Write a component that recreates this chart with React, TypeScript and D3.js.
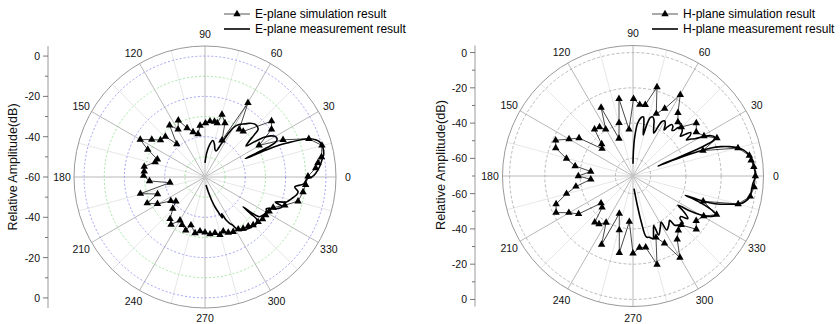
import React from 'react';
import * as d3 from 'd3';

const angleLabels = [0, 30, 60, 90, 120, 150, 180, 210, 240, 270, 300, 330];
const spokeAngles = d3.range(0, 360, 15);

const eMajorTicks = [0, -20, -40, -60];
const eMinorTicks = [-10, -30, -50];
const hMajorTicks = [0, -20, -40, -60];
const hMinorTicks = [-10, -30, -50, -70];

const eLegend = ['E-plane simulation result', 'E-plane measurement result'];
const hLegend = ['H-plane simulation result', 'H-plane measurement result'];
const axisTitle = 'Relative Amplitude(dB)';

// E-plane simulation (angle deg, dB)
const eSimAngles = [0.4, 4.6, 7.2, 9.7, 15.1, 20.2, 25.5, 30.3, 35.6, 40, 50, 54.3, 59.9, 65.2, 69.7, 74.8, 77.2, 80.3, 84.9, 89.5,
  95.5, 99.2, 104.9, 110.1, 115.2, 119.5, 124.4, 130.6, 134.4, 140.3, 144.9, 150, 154.4, 159.6, 163.3, 170.2, 174.7, 178.8,
  184.1, 189.2, 194.5, 199.7, 204.4, 209.5, 215, 219.8, 224.5, 230.2, 234.5, 240, 244.4, 250.1, 253.8, 260, 264.7, 270,
  275, 280.1, 284.5, 288.6, 292.7, 297.2, 302.5, 306.5, 311.3, 315, 319.8, 323.8, 327.9, 331.9, 335.8, 340.5, 345.4, 351.3, 355.6];
const eSimDb = [-8.9, -4.9, -3.5, -1.4, 0.1, -5.1, -17.1, -28.9, -19.4, -16.9, -30.5, -30.9, -17.5, -39.9, -31.5, -27.9, -32.6, -32.1, -32.2, -33.3,
  -34.4, -38.4, -36.9, -34.1, -28.9, -32.9, -28.9, -38.5, -31.9, -31.3, -27.7, -22.9, -28.5, -34.8, -34.2, -29.4, -29.7, -29.5,
  -32.4, -42.4, -26.9, -35, -28.5, -32.9, -39.3, -41.2, -37.6, -32.9, -31, -35.2, -33.7, -31.9, -35.1, -31.7, -33, -32.5,
  -31.5, -31.8, -30.3, -31.6, -30.1, -29.4, -29.3, -28.2, -27.5, -26.2, -25.5, -24.6, -24.4, -23.9, -22.9, -18, -12.3, -10.8, -9.9];

// E-plane measurement
const eMeasAngles = [90, 86, 82, 78, 74, 70, 67, 64, 62, 60, 57, 53, 50, 46, 42, 40.5, 39, 37, 35.5, 34, 32, 30, 28, 26.5, 25.5, 25, 24.5, 24,
  23.5, 22.5, 20, 17, 14, 11, 8, 5, 2, 0, -1, -4, -6.3, -9, -11, -14, -17, -19.6, -21, -24, -27.2, -30, -33, -36, -37.5, -38, -38.8,
  -39.5, -43, -47, -51, -54, -58, -60, -62, -64, -65.5, -67, -69, -71.5, -74, -77.5, -83];
const eMeasDb = [-53, -48, -44, -41.5, -43, -45.5, -46, -42, -36, -31.5, -29, -27, -25.2, -23.8, -24.5, -28, -32, -34.5, -30, -25, -21.5, -19.7, -19.5, -20.5, -24, -32, -38, -30,
  -22, -16, -4.5, -0.5, 0.3, 0, -1.5, -3, -5, -7, -9.4, -10.9, -15.2, -13.2, -13.7, -15.7, -17.7, -23, -19, -21.2, -25.7, -24.8, -25.5, -26.5, -31, -36, -31,
  -26.5, -25.5, -26.1, -26.8, -27.5, -28.9, -32.3, -34, -36.4, -40, -38, -41, -44.3, -48, -52.4, -56];

// H-plane simulation
const hSimAngles = [0, 4.3, 7.6, 10, 14.9, 20, 24.3, 29.4, 34.8, 39.9, 45.4, 50.2, 54.6, 59.8, 64.8, 69.5, 74.9, 80.2, 84.6, 89.6,
  94.9, 100.3, 104.7, 110.5, 115, 120.3, 124.4, 129.5, 134.4, 138.6, 144.9, 150, 155.2, 160.1, 165.3, 170.2, 173.9, 180,
  184.5, 190.4, 194.9, 200, 205.4, 209.8, 214.9, 220.4, 225.5, 230.5, 234.8, 240, 245.4, 250, 255.8, 259.9, 265.4, 270,
  275.2, 280.1, 285.2, 290.5, 295.1, 299.9, 304.9, 309.9, 314.6, 319.9, 324.7, 330.4, 335.2, 340.2, 345.1, 350.1, 354.8];
const hSimDb = [-0.6, -1.3, -2.4, -3, -8.4, -27.8, -17.8, -23.8, -26.3, -23.2, -31, -30.2, -26, -16.7, -27.8, -32.3, -17.8, -29, -29.4, -26.2,
  -43.5, -25.5, -38.8, -47.3, -27.2, -39.3, -36.4, -35.7, -44.6, -46.6, -32.6, -28.1, -21.7, -23.4, -31, -36.7, -45.9, -39,
  -46, -37.1, -31, -23.6, -21.7, -28.1, -32.4, -46.2, -45, -35.9, -36.6, -39.5, -27.2, -47.3, -38.3, -25.7, -44, -26.1,
  -29.3, -28.9, -18, -32.8, -27.9, -16.6, -26.2, -29.9, -31, -23.1, -26.1, -23.9, -17.8, -27.7, -8.3, -2.5, -1];

// H-plane measurement
const hMeasAngles = [90, 89, 87.5, 85, 82, 80, 78.5, 77, 76, 75, 73.5, 71.5, 69.5, 67, 64, 63, 62, 60, 58, 56, 55, 53, 51, 49.5, 48, 47,
  44, 42, 40, 38.5, 37, 35.5, 34, 32.5, 31, 29.5, 27.5, 25.5, 24, 23, 22.3, 21.8, 21.2, 20.5, 19.8, 18.5, 17, 15, 13, 11, 9, 6.7, 3, 0,
  -3.7, -7, -10.2, -12.5, -14.3, -16.6, -18.7, -19.8, -20.3, -21, -22, -23.5, -25, -26.5, -28.3, -30, -31.5, -33, -35, -37.8, -40.5,
  -42, -43.6, -47, -49.8, -50.4, -54, -58, -58.6, -62, -66.5, -67.2, -70, -72.3, -75, -77.7, -79.8, -81.6, -85.5];
const hMeasDb = [-63, -56, -48, -40, -36.5, -36, -39, -44, -46, -40, -35.5, -34.7, -36, -40, -43, -38, -35, -34, -35.5, -38.5, -36, -33.5, -34, -36, -35, -32.5,
  -31.5, -32.5, -35, -32, -29, -30, -33.5, -31, -29, -25, -20.5, -18.7, -20, -26, -40, -54.8, -40, -30, -23, -17.5, -13, -8.4, -5.3, -3.6, -2.4, -1.6, -0.8, -0.5,
  -1.9, -2.3, -2.8, -4.5, -6.7, -13.9, -21, -28, -38.4, -33, -27, -21, -17.9, -19, -21.7, -26, -32, -39.6, -35, -30.6, -34.5,
  -34.2, -30.8, -32, -33.5, -37.4, -35.5, -33.9, -39.4, -37, -33.5, -39.6, -36, -32.7, -34, -34.6, -43.5, -53.2, -62.8];

const FONT = '"Liberation Sans", Arial, Helvetica, sans-serif';
const deg = Math.PI / 180;

type PanelProps = {
  cx: number; cy: number; rMax: number; domain: [number, number];
  simA: number[]; simV: number[]; measA: number[]; measV: number[];
  grid: 'e' | 'h'; axisX: number; majors: number[]; minors: number[];
  legendX: number; legend: string[]; titleX: number; titleY: number; titleSize: number;
};

function Panel(p: PanelProps) {
  const r = d3.scaleLinear().domain(p.domain).range([0, p.rMax]);
  const R = p.rMax;
  const sim = p.simA.map((a, i) => ({ a, v: p.simV[i] }));
  const meas = p.measA.map((a, i) => ({ a, v: p.measV[i] }));
  const simPath = d3.lineRadial<any>().angle(d => (90 - d.a) * deg).radius(d => r(d.v)).curve(d3.curveLinearClosed)(sim) || '';
  const measPath = d3.lineRadial<any>().angle(d => (90 - d.a) * deg).radius(d => r(d.v)).curve(d3.curveCatmullRom.alpha(0.5))(meas) || '';
  const tri = d3.symbol(d3.symbolTriangle, 24)() || '';
  const { cx, cy } = p;

  const circles: { v: number; stroke: string; dash: string }[] = p.grid === 'e'
    ? [0, -20, -40].map(v => ({ v, stroke: '#8c8cf0', dash: '2,2' })).concat([-10, -30, -50].map(v => ({ v, stroke: '#8fe08f', dash: '2,2' })))
    : [0, -20, -40, -60].map(v => ({ v, stroke: '#a8a8a8', dash: '3,2' }));

  const tickYs = (v: number) => (r(v) === 0 ? [cy] : [cy - r(v), cy + r(v)]);

  return (
    <g>
      {spokeAngles.map(a => (
        <line key={'s' + a} x1={cx} y1={cy} x2={cx + R * Math.cos(a * deg)} y2={cy - R * Math.sin(a * deg)}
          stroke={a % 30 === 0 ? '#b0b0b0' : '#dcdcdc'} strokeWidth={a % 30 === 0 ? 0.9 : 0.7} />
      ))}
      {circles.map(c => (
        <circle key={'c' + c.v} cx={cx} cy={cy} r={r(c.v)} fill="none" stroke={c.stroke} strokeWidth={0.8} strokeDasharray={c.dash} />
      ))}
      <circle cx={cx} cy={cy} r={R} fill="none" stroke="#9a9a9a" strokeWidth={1} />
      {angleLabels.map(a => {
        const y = Math.min(cy - 143 * Math.sin(a * deg), 317.5);
        return (
          <text key={'al' + a} x={cx + 143 * Math.cos(a * deg)} y={y} textAnchor="middle"
            dominantBaseline="central" fontSize={10.5} fontFamily={FONT} fill="#111">{a}</text>
        );
      })}
      <line x1={p.axisX} x2={p.axisX} y1={cy - R} y2={cy + R} stroke="#9a9a9a" strokeWidth={1} />
      {p.majors.flatMap(v => tickYs(v).map((y, j) => (
        <g key={'mt' + v + '_' + j}>
          <line x1={p.axisX - 5} x2={p.axisX} y1={y} y2={y} stroke="#555" strokeWidth={0.8} />
          <text x={p.axisX - 8} y={y} textAnchor="end" dominantBaseline="central" fontSize={10.5} fontFamily={FONT} fill="#111">{v}</text>
        </g>
      )))}
      {p.minors.flatMap(v => tickYs(v).map((y, j) => (
        <line key={'nt' + v + '_' + j} x1={p.axisX - 3} x2={p.axisX} y1={y} y2={y} stroke="#555" strokeWidth={0.8} />
      )))}
      <text transform={`translate(${p.titleX},${p.titleY}) rotate(-90)`} textAnchor="middle" dominantBaseline="central"
        fontSize={p.titleSize} fontFamily={FONT} fill="#111">{axisTitle}</text>
      <g transform={`translate(${cx},${cy})`}>
        <path d={simPath} fill="none" stroke="#333" strokeWidth={0.9} />
        <path d={measPath} fill="none" stroke="#000" strokeWidth={1.6} strokeLinejoin="round" />
        {sim.map((d, i) => {
          const rr = r(d.v);
          return <path key={'t' + i} d={tri} transform={`translate(${rr * Math.cos(d.a * deg)},${-rr * Math.sin(d.a * deg)})`} fill="#000" />;
        })}
      </g>
      <line x1={p.legendX} x2={p.legendX + 26} y1={14} y2={14} stroke="#555" strokeWidth={1} />
      <path d={tri} transform={`translate(${p.legendX + 13},${14})`} fill="#000" />
      <text x={p.legendX + 31} y={14} dominantBaseline="central" fontSize={12} fontFamily={FONT} fill="#000">{p.legend[0]}</text>
      <line x1={p.legendX} x2={p.legendX + 26} y1={29} y2={29} stroke="#000" strokeWidth={1.6} />
      <text x={p.legendX + 31} y={29} dominantBaseline="central" fontSize={12} fontFamily={FONT} fill="#000">{p.legend[1]}</text>
    </g>
  );
}

export default function App() {
  return (
    <div style={{ position: 'absolute', left: 0, top: 0, width: 840, height: 324, background: '#fff' }}>
      <svg width={840} height={324} viewBox="0 0 840 324" style={{ display: 'block' }}>
        <rect width={840} height={324} fill="#fff" />
        <Panel cx={205} cy={177} rMax={131} domain={[-60, 5]} simA={eSimAngles} simV={eSimDb} measA={eMeasAngles} measV={eMeasDb}
          grid="e" axisX={48} majors={eMajorTicks} minors={eMinorTicks} legendX={224} legend={eLegend}
          titleX={13} titleY={167} titleSize={12.5} />
        <Panel cx={633} cy={176} rMax={130.5} domain={[-70, 4]} simA={hSimAngles} simV={hSimDb} measA={hMeasAngles} measV={hMeasDb}
          grid="h" axisX={475} majors={hMajorTicks} minors={hMinorTicks} legendX={652} legend={hLegend}
          titleX={440.5} titleY={165} titleSize={12.8} />
      </svg>
    </div>
  );
}
